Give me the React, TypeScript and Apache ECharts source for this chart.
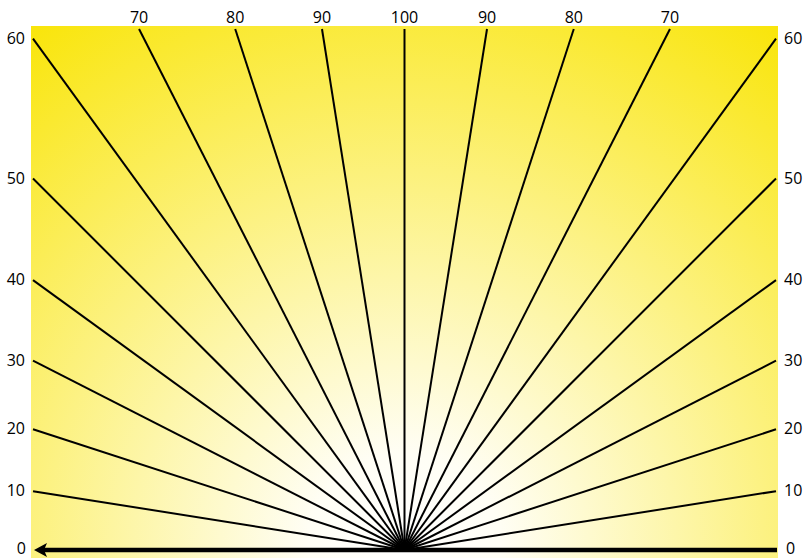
import React, { useEffect, useRef } from "react";
import * as echarts from "echarts";

// ---- data ----
const leftRays = [10, 20, 30, 40, 50, 60, 70, 80, 90, 100];
const rightRays = [90, 80, 70, 60, 50, 40, 30, 20, 10];
const baselineLabels = [0, 0];
const fullScale = 100; // value drawn as the vertical ray
const fullAngle = 90; // degrees at fullScale

// ---- layout ----
const W = 807;
const H = 558;
const GRID = { left: 31, right: 29, top: 26, bottom: 0 };
const HALF_W = (W - GRID.left - GRID.right) / 2;
const Y_MIN = -8;
const Y_MAX = H - GRID.top - GRID.bottom + Y_MIN;
const BOX_HALF = 371.5;
const BOX_TOP = 521;
const FONT = { fontFamily: "'Open Sans', 'Noto Sans', sans-serif", fontSize: 16 };

export default function App() {
  const ref = useRef<HTMLDivElement>(null);
  useEffect(() => {
    if (!ref.current) return;
    const chart = echarts.init(ref.current, undefined, { renderer: "svg" });
    const rayData = [
      ...leftRays.map((v) => [v, -1]),
      ...rightRays.map((v) => [v, 1]),
    ];
    const cx = GRID.left + HALF_W;
    const cy = GRID.top + Y_MAX;
    chart.setOption({
      animation: false,
      grid: {
        ...GRID,
        show: true,
        borderWidth: 0,
        backgroundColor: {
          type: "radial",
          x: cx,
          y: cy,
          r: Math.hypot(HALF_W, Y_MAX),
          global: true,
          colorStops: [
            { offset: 0, color: "#ffffff" },
            { offset: 0.15, color: "#fffef5" },
            { offset: 1, color: "#f9e50a" },
          ],
        },
      },
      xAxis: { type: "value", min: -HALF_W, max: HALF_W, show: false },
      yAxis: { type: "value", min: Y_MIN, max: Y_MAX, show: false },
      series: [
        {
          type: "custom",
          name: "baseline",
          data: [[0]],
          renderItem: (params: any, api: any) => {
            const p0 = api.coord([BOX_HALF + 1, 0]);
            const tip = api.coord([-BOX_HALF + 1, 0]);
            const back = api.coord([-BOX_HALF + 9, 0]);
            return {
              type: "group",
              children: [
                {
                  type: "line",
                  shape: { x1: p0[0], y1: p0[1], x2: back[0], y2: back[1] },
                  style: { stroke: "#000", lineWidth: 4.5 },
                },
                {
                  type: "polygon",
                  shape: {
                    points: [
                      [tip[0], tip[1]],
                      [tip[0] + 13, tip[1] - 7],
                      [tip[0] + 10, tip[1]],
                      [tip[0] + 13, tip[1] + 7],
                    ],
                  },
                  style: { fill: "#000" },
                },
                {
                  type: "text",
                  x: tip[0] - 8,
                  y: tip[1] - 2,
                  style: { text: String(baselineLabels[0]), fill: "#000", align: "right", verticalAlign: "middle", ...FONT },
                },
                {
                  type: "text",
                  x: p0[0] + 9,
                  y: p0[1] - 2,
                  style: { text: String(baselineLabels[1]), fill: "#000", align: "left", verticalAlign: "middle", ...FONT },
                },
              ],
            };
          },
        },
        {
          type: "custom",
          name: "rays",
          data: rayData,
          renderItem: (params: any, api: any) => {
            const v = api.value(0);
            const side = api.value(1);
            const th = ((v / fullScale) * fullAngle * Math.PI) / 180;
            const dx = side * Math.cos(th);
            const dy = Math.sin(th);
            const tSide = Math.abs(dx) > 1e-9 ? BOX_HALF / Math.abs(dx) : Infinity;
            const tTop = BOX_TOP / dy;
            const t = Math.min(tSide, tTop);
            const p0 = api.coord([0, 0]);
            const p1 = api.coord([dx * t, dy * t]);
            const onSide = tSide < tTop;
            const lab = onSide
              ? { x: p1[0] + side * 8, y: p1[1] - 1, align: side < 0 ? "right" : "left" }
              : { x: p1[0], y: p1[1] - 12, align: "center" };
            return {
              type: "group",
              children: [
                {
                  type: "line",
                  shape: { x1: p0[0], y1: p0[1], x2: p1[0], y2: p1[1] },
                  style: { stroke: "#000", lineWidth: 2 },
                },
                {
                  type: "text",
                  x: lab.x,
                  y: lab.y,
                  style: { text: String(v), fill: "#000", align: lab.align, verticalAlign: "middle", ...FONT },
                },
              ],
            };
          },
        },
      ],
    });
    return () => chart.dispose();
  }, []);
  return (
    <div
      ref={ref}
      style={{ position: "fixed", left: 0, top: 0, width: W + "px", height: H + "px", background: "#fff" }}
    />
  );
}
